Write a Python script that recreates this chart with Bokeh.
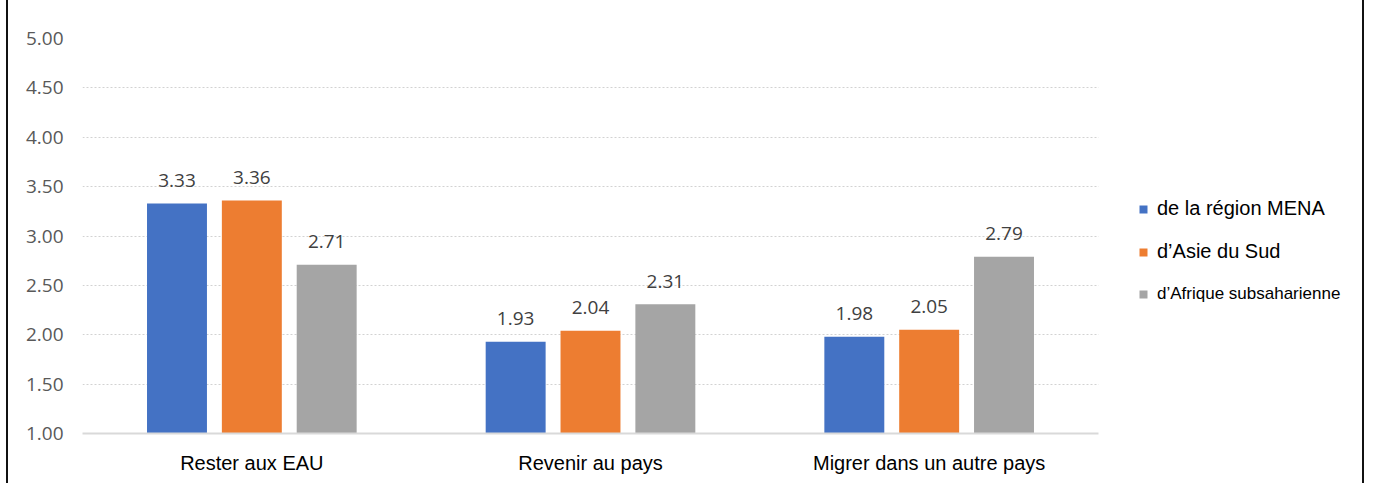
from bokeh.plotting import figure
from bokeh.models import (ColumnDataSource, Range1d, FixedTicker, BoxAnnotation,
                          NumeralTickFormatter, Legend, LegendItem)
from bokeh.core.properties import value
from bokeh.embed import file_html
from bokeh.resources import INLINE

# ---------------- data ----------------
categories = ["Rester aux EAU", "Revenir au pays", "Migrer dans un autre pays"]
series_names = ["de la région MENA", "d’Asie du Sud", "d’Afrique subsaharienne"]
mena = [3.33, 1.93, 1.98]
asie_sud = [3.36, 2.04, 2.05]
afrique_ss = [2.71, 2.31, 2.79]
y_ticks = [1.0, 1.5, 2.0, 2.5, 3.0, 3.5, 4.0, 4.5, 5.0]
y_min, y_max = 1.0, 5.0

series_values = [mena, asie_sud, afrique_ss]
colors = ["#4472C4", "#ED7D31", "#A5A5A5"]
offsets = [-0.221, 0.0, 0.221]
bar_width = 0.177

# layout geometry (pixels)
fig_w, fig_h = 1358, 483
border_l, border_t, border_b = 74, 38, 50
plot_area_w = 1016                      # width of the gridded area
frame_w = fig_w - border_l
n_cat = len(categories)
x_end = n_cat * frame_w / plot_area_w   # frame extends under the legend
centers = [i + 0.5 for i in range(n_cat)]

p = figure(
    x_range=Range1d(0, x_end),
    y_range=Range1d(y_min, y_max),
    width=fig_w, height=fig_h,
    output_backend="svg", toolbar_location=None,
    min_border_left=border_l, min_border_right=0,
    min_border_top=border_t, min_border_bottom=border_b,
    styles={"border-left": "2px solid #111", "border-right": "2px solid #111",
            "margin-left": "6px"},
)
p.outline_line_color = None
p.background_fill_color = "white"
p.border_fill_color = "white"

# grid + cover of the legend area
p.xgrid.grid_line_color = None
p.ygrid.grid_line_color = "#d2d2d2"
p.ygrid.grid_line_dash = "2 2"
p.ygrid.grid_line_width = 1
p.add_layout(BoxAnnotation(left=n_cat, fill_color="white", fill_alpha=1,
                           line_color=None, level="underlay"))

renderers = []
for vals, col, off in zip(series_values, colors, offsets):
    xs = [c + off for c in centers]
    src = ColumnDataSource(dict(x=xs, val=vals, label=[f"{v:.2f}" for v in vals]))
    r = p.vbar(x="x", top="val", bottom=y_min, width=bar_width, source=src,
               fill_color=col, line_color=None)
    renderers.append(r)
    p.text(x="x", y="val", text="label", source=src, text_align="center",
           text_baseline="alphabetic", y_offset=-23,
           text_font=value("Open Sans"), text_font_size="19px",
           text_color="#404040")

# axes
p.yaxis.ticker = FixedTicker(ticks=y_ticks)
p.yaxis.formatter = NumeralTickFormatter(format="0.00")
p.yaxis.axis_line_color = None
p.yaxis.major_tick_line_color = None
p.yaxis.minor_tick_line_color = None
p.yaxis.major_label_standoff = 13
p.yaxis.major_label_text_font = "Open Sans"
p.yaxis.major_label_text_font_size = "19px"
p.yaxis.major_label_text_color = "#595959"

p.xaxis.ticker = FixedTicker(ticks=centers)
p.xaxis.major_label_overrides = {c: lab for c, lab in zip(centers, categories)}
p.xaxis.bounds = (0, n_cat)
p.xaxis.axis_line_color = "#d9d9d9"
p.xaxis.axis_line_width = 2
p.xaxis.major_tick_line_color = None
p.xaxis.minor_tick_line_color = None
p.xaxis.major_label_standoff = 12
p.xaxis.major_label_text_font = "Liberation Sans"
p.xaxis.major_label_text_font_size = "20px"
p.xaxis.major_label_text_color = "#000000"

# legends
common = dict(orientation="vertical", glyph_width=10, glyph_height=10,
              label_standoff=9, label_height=20, spacing=20, padding=0,
              margin=0, border_line_color=None, background_fill_alpha=0,
              label_text_color="#000000", label_text_font="Liberation Sans")
leg1 = Legend(items=[LegendItem(label=value(series_names[0]), renderers=[renderers[0]]),
                     LegendItem(label=value(series_names[1]), renderers=[renderers[1]])],
              location=(1056, 170), label_text_font_size="20px", **common)
leg2 = Legend(items=[LegendItem(label=value(series_names[2]), renderers=[renderers[2]])],
              location=(1056, 129), label_text_font_size="17px", **common)
p.add_layout(leg1)
p.add_layout(leg2)

open("out.html", "w").write(file_html(p, INLINE))
